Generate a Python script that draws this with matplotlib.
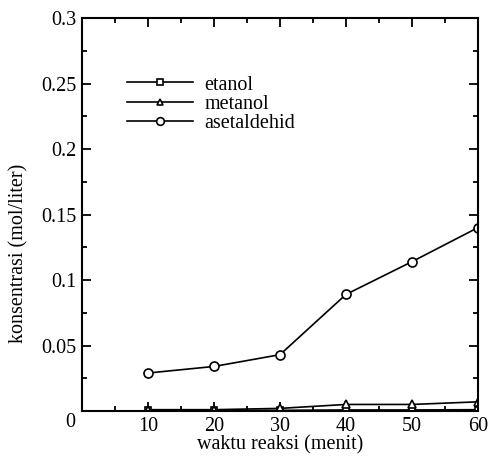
import matplotlib.pyplot as plt
from matplotlib.ticker import MultipleLocator

waktu = [10, 20, 30, 40, 50, 60]
etanol = [0.0005, 0.0005, 0.0005, 0.0008, 0.0008, 0.001]
metanol = [0.001, 0.001, 0.002, 0.005, 0.005, 0.007]
asetaldehid = [0.029, 0.034, 0.043, 0.089, 0.114, 0.140]

plt.rcParams['font.family'] = ['Liberation Serif', 'DejaVu Serif']
fs = 14.5

fig = plt.figure(figsize=(4.88, 4.61), dpi=100)
ax = fig.add_axes([82/488, 1 - 411/461, 396/488, 393/461])

ax.plot(waktu, etanol, color='black', marker='s', markersize=5, mfc='white', mec='black', mew=1.2, lw=1.2, label='etanol')
ax.plot(waktu, metanol, color='black', marker='^', markersize=5.5, mfc='white', mec='black', mew=1.2, lw=1.2, label='metanol')
ax.plot(waktu, asetaldehid, color='black', marker='o', markersize=6.5, mfc='white', mec='black', mew=1.2, lw=1.2, label='asetaldehid')

ax.set_xlim(0, 60)
ax.set_ylim(0, 0.3)
ax.xaxis.set_minor_locator(MultipleLocator(5))
ax.yaxis.set_minor_locator(MultipleLocator(0.025))
ax.set_xticks([0, 10, 20, 30, 40, 50, 60])
ax.set_xticklabels(['', '10', '20', '30', '40', '50', '60'])
ax.set_yticks([0, 0.05, 0.1, 0.15, 0.2, 0.25, 0.3])
ax.set_yticklabels(['', '0.05', '0.1', '0.15', '0.2', '0.25', '0.3'])
ax.tick_params(which='both', direction='in', top=True, right=True, width=1.3, labelsize=fs)
ax.tick_params(which='major', length=6.5, pad=4)
ax.tick_params(which='minor', length=3.5)
for s in ax.spines.values():
    s.set_linewidth(1.5)

# origin label sits below-left of the corner
ax.annotate('0', xy=(0, 0), xytext=(-8.5, -8.5), textcoords='offset points',
            ha='center', va='center', fontsize=fs)

ax.set_xlabel('waktu reaksi (menit)', fontsize=fs, labelpad=0)
ax.set_ylabel('konsentrasi (mol/liter)', fontsize=fs, labelpad=9, y=0.40)

leg = ax.legend(loc='upper left', bbox_to_anchor=(0.067, 0.9), frameon=False, fontsize=fs,
                handlelength=3.3, handletextpad=0.55, labelspacing=0.0, markerscale=0.85)

fig.savefig('out.png', dpi=100)
